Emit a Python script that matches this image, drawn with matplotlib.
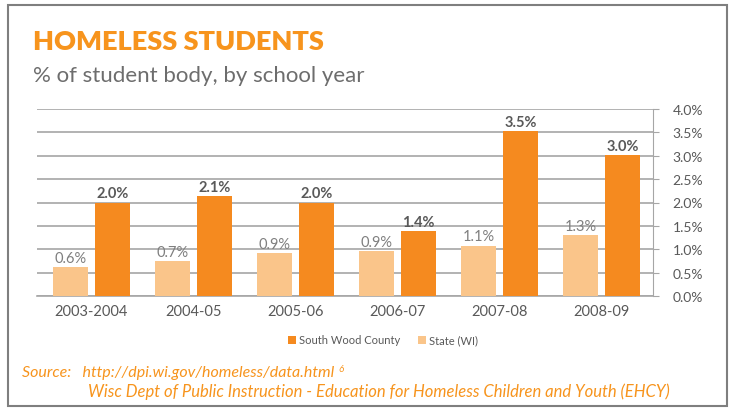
import matplotlib.pyplot as plt
import numpy as np
from matplotlib.patches import Rectangle

years = ["2003-2004", "2004-05", "2005-06", "2006-07", "2007-08", "2008-09"]
south_wood = [2.0, 2.14, 2.0, 1.38, 3.52, 3.01]
south_labels = ["2.0%", "2.1%", "2.0%", "1.4%", "3.5%", "3.0%"]
state_wi = [0.62, 0.74, 0.91, 0.96, 1.08, 1.3]
state_labels = ["0.6%", "0.7%", "0.9%", "0.9%", "1.1%", "1.3%"]
y_ticks = [0, 0.5, 1.0, 1.5, 2.0, 2.5, 3.0, 3.5, 4.0]

orange = "#F58A1F"
light = "#FAC58A"
title_col = "#F7941D"
grey = "#595959"
grid_col = "#A6A6A6"

plt.rcParams['font.family'] = ['Lato', 'DejaVu Sans']

fig = plt.figure(figsize=(7.32, 4.14), dpi=100)
# grey frame round the whole graphic
fig.patches.append(Rectangle((8/732, 7/414), 719/732, 401/414, transform=fig.transFigure,
                             fill=False, edgecolor="#7F7F7F", lw=1.5))

ax = fig.add_axes([37/732, 1 - 297/414, 616/732, 187/414])
x = np.arange(len(years))
w = 0.343
off = 0.206
ax.bar(x - off, state_wi, w, color=light, label="State (WI)", zorder=3)
ax.bar(x + off, south_wood, w, color=orange, label="South Wood County", zorder=3)

for i in range(len(years)):
    ax.text(x[i] - off, state_wi[i] + 0.05, state_labels[i], ha="center", va="bottom",
            fontsize=10.5, color="#7F7F7F")
    ax.text(x[i] + off, south_wood[i] + 0.05, south_labels[i], ha="center", va="bottom",
            fontsize=10.5, color=grey, fontweight="bold")

ax.set_xlim(-0.534, 5.505)
ax.set_ylim(0, 4.0)
ax.set_yticks(y_ticks)
ax.set_yticklabels([f"{v:.1f}%" for v in y_ticks])
ax.yaxis.tick_right()
ax.tick_params(axis="y", length=4, color=grid_col, labelsize=10, labelcolor=grey, pad=10)
ax.set_xticks(x)
ax.set_xticklabels(years)
ax.tick_params(axis="x", length=0, labelsize=10.5, labelcolor=grey, pad=6)
ax.grid(axis="y", color=grid_col, lw=1.2, zorder=0)
for s in ["top", "left"]:
    ax.spines[s].set_visible(False)
ax.spines["right"].set_color(grid_col)
ax.spines["bottom"].set_color(grid_col)
ax.spines["bottom"].set_linewidth(1.2)

handles, labels = ax.get_legend_handles_labels()
fig.legend(handles[::-1], labels[::-1], loc="center", bbox_to_anchor=(383/732, 1 - 341/414),
           ncol=2, frameon=False, fontsize=8, handlelength=0.7, handleheight=0.7,
           handletextpad=0.3, columnspacing=1.6, labelcolor=grey)

fig.text(33/732, 1 - 42/414, "HOMELESS STUDENTS", fontsize=19.5, fontweight="heavy",
         color=title_col, va="center")
fig.text(33/732, 1 - 76/414, "% of student body, by school year", fontsize=16,
         color="#6D6D6D", va="center")
src = fig.text(22/732, 1 - 373/414, "Source:   http://dpi.wi.gov/homeless/data.html",
               fontsize=11.5, style="italic", color=title_col, va="center")
ax.annotate("6", xy=(1, 1), xycoords=src, xytext=(3, 1), textcoords="offset points",
            fontsize=7, style="italic", color=title_col, va="top", ha="left",
            annotation_clip=False)
fig.text(88/732, 1 - 392/414,
         "Wisc Dept of Public Instruction - Education for Homeless Children and Youth (EHCY)",
         fontsize=12, style="italic", color=title_col, va="center")

fig.savefig("out.png", dpi=100)
